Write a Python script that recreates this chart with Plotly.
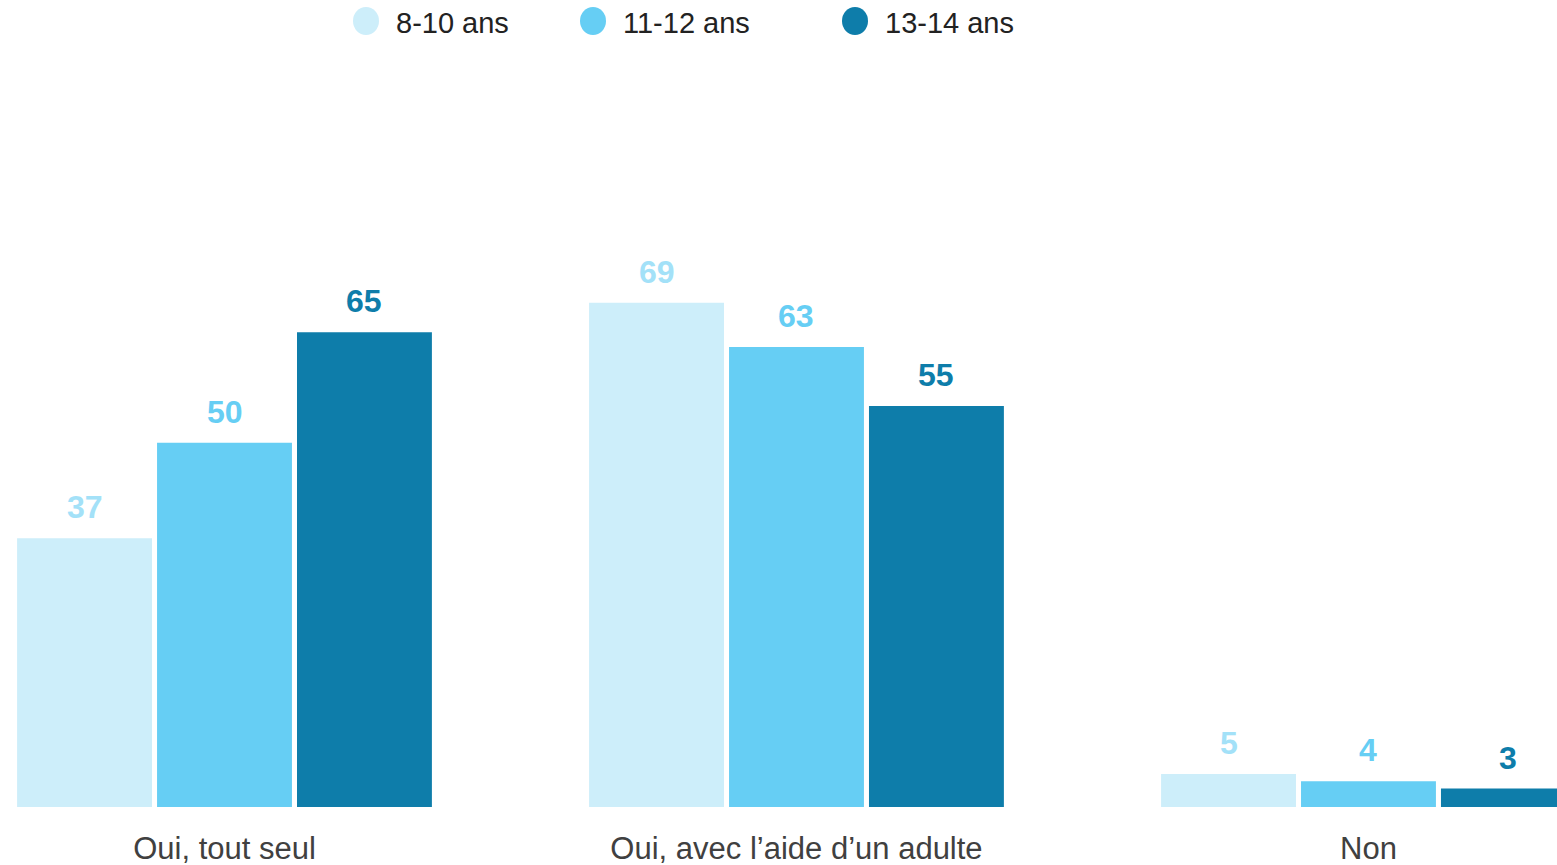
import plotly.graph_objects as go

categories = ["Oui, tout seul", "Oui, avec l’aide d’un adulte", "Non"]
series_names = ["8-10 ans", "11-12 ans", "13-14 ans"]
values_8_10 = [37, 69, 5]
values_11_12 = [50, 63, 4]
values_13_14 = [65, 55, 3]

bar_colors = ["#cdeefa", "#66cef4", "#0e7daa"]
label_colors = ["#a3e1f8", "#66cef4", "#0e7daa"]

series_values = [values_8_10, values_11_12, values_13_14]

W, H = 1557, 865
T, B = 100, 58
BARGAP = 0.266
slot = (1 - BARGAP) / len(series_names)

fig = go.Figure()
for name, vals, bc in zip(series_names, series_values, bar_colors):
    fig.add_trace(go.Bar(
        x=categories, y=vals, name=name,
        marker=dict(color=bc, line=dict(width=0)),
        showlegend=False,
    ))

# value labels above bars
for j, (vals, lc) in enumerate(zip(series_values, label_colors)):
    for i, v in enumerate(vals):
        fig.add_annotation(x=i + (j - 1) * slot, y=v, xref="x", yref="y",
                           text=str(v), showarrow=False, yanchor="bottom",
                           yshift=11,
                           font=dict(size=32, color=lc, weight="bold"))

# custom legend with large circles
legend_x = [366, 593, 855]
plot_h = H - T - B
for name, bc, lx in zip(series_names, bar_colors, legend_x):
    cy = 21
    fig.add_shape(type="circle", xref="paper", yref="paper",
                  x0=(lx - 13) / W, x1=(lx + 13) / W,
                  y0=(H - B - (cy + 14)) / plot_h, y1=(H - B - (cy - 14)) / plot_h,
                  line=dict(width=0), fillcolor=bc)
    fig.add_annotation(xref="paper", yref="paper", x=(lx + 28) / W,
                       y=(H - B - 23) / plot_h, text=name, showarrow=False,
                       xanchor="left", yanchor="middle",
                       font=dict(size=29, color="#222222"))

fig.update_layout(
    width=W, height=H,
    margin=dict(l=0, r=0, t=T, b=B),
    paper_bgcolor="white", plot_bgcolor="white",
    barmode="group", bargap=BARGAP, bargroupgap=0.036,
    font=dict(family="Liberation Sans, Arial, sans-serif", color="#404040"),
    xaxis=dict(type="category", range=[-0.3925, 2.3296], showgrid=False, showline=False,
               zeroline=False, ticks="", ticklabelstandoff=20,
               tickfont=dict(size=31, color="#404040")),
    yaxis=dict(range=[0.5, 96.56], visible=False, showgrid=False, zeroline=False),
    showlegend=False,
)

fig.write_html("out.html", post_script="document.body.style.margin='0';",
               config={"displayModeBar": False})
